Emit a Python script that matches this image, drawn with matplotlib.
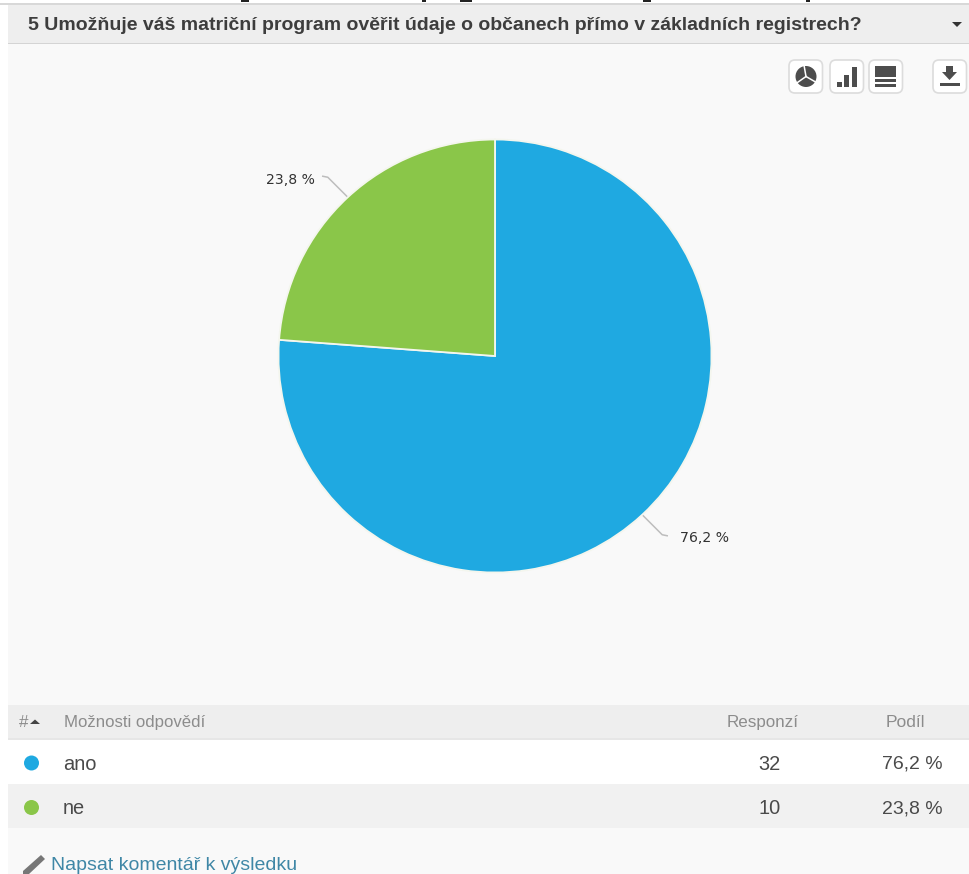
import numpy as np
import matplotlib
matplotlib.use("Agg")
import matplotlib.pyplot as plt
from matplotlib.patches import Rectangle, FancyBboxPatch, Circle, Polygon

plt.rcParams['font.family'] = ['Liberation Sans', 'DejaVu Sans']

# survey answers
question = "5 Umožňuje váš matriční program ověřit údaje o občanech přímo v základních registrech?"
options = ["ano", "ne"]
responses = [32, 10]
shares = [76.2, 23.8]
share_labels = ["76,2 %", "23,8 %"]
colors = ["#1fa9e1", "#8ac649"]

W, H = 970, 874
BG = "#f9f9f9"
BAND = "#eeeeee"
GREY_TXT = "#8c8c8c"
DARK_TXT = "#4a4a4a"
ICON = "#4d4d4d"

fig = plt.figure(figsize=(W / 100, H / 100), dpi=100, facecolor="white")

# page layer in pixel coordinates
bg = fig.add_axes([0, 0, 1, 1])
bg.set_xlim(0, W)
bg.set_ylim(H, 0)
bg.axis("off")


def box(x0, y0, x1, y1, color):
    bg.add_patch(Rectangle((x0, y0), x1 - x0, y1 - y0, fc=color, ec="none"))


def px(size):
    # css pixels to points
    return size * 72 / 100


box(8, 3, W, 874, BG)
box(8, 4, W, 43, BAND)
box(0, 3, W, 4.5, "#d8d8d8")
box(8, 42.5, W, 44, "#d4d4d4")

# bits of the line above the panel, cut off at the top edge
for x0, x1 in [(241, 249), (422, 426), (460, 472), (643, 651), (806, 810)]:
    box(x0, 0, x1, 1.5, "#222222")

bg.text(28, 25, question, fontsize=px(19.5), fontweight="bold", color="#3d3d3d",
        va="center", ha="left")
bg.add_patch(Polygon([(952, 22), (962, 22), (957, 27)], fc="#333333", ec="none"))

# toolbar buttons
for x0 in [789, 830, 869, 933]:
    bg.add_patch(FancyBboxPatch((x0 + 4, 64), 25.5, 25, boxstyle="round,pad=4,rounding_size=6",
                                fc="white", ec="#dcdcdc", lw=1.2))

# pie button
bg.add_patch(Circle((806, 76.5), 10.5, fc=ICON, ec="none"))
for ang in [100, 215, 330]:
    bg.plot([806, 806 + 11 * np.cos(np.radians(ang))],
            [76.5, 76.5 - 11 * np.sin(np.radians(ang))], color="white", lw=1.1)
# bar button
for x0, top in [(837, 82), (844.5, 75), (852.5, 67)]:
    box(x0, top, x0 + 5, 87, ICON)
# table button
box(875, 66, 896, 77, ICON)
box(875, 78.5, 896, 82, ICON)
box(875, 83.5, 896, 87, ICON)
# download button
bg.add_patch(Polygon([(946, 66), (953, 66), (953, 72), (957, 72), (949.5, 80), (942, 72), (946, 72)],
                     fc=ICON, ec="none"))
box(940, 83, 960, 86, ICON)

# pie
cx, cy, r = 495, 356, 216.5
pie_ax = fig.add_axes([(cx - r) / W, 1 - (cy + r) / H, 2 * r / W, 2 * r / H])
pie_ax.pie(responses, colors=colors, startangle=90, counterclock=False, radius=1,
           wedgeprops=dict(edgecolor="#f4f6ee", linewidth=1.3))
pie_ax.set_xlim(-1, 1)
pie_ax.set_ylim(-1, 1)

# leader lines start in the middle of each slice's arc
cum = 0
for val, lab in zip(shares, share_labels):
    ang = np.radians((cum + val / 2) * 3.6)
    cum += val
    sx, sy = np.sin(ang), -np.cos(ang)
    x0, y0 = cx + r * sx, cy + r * sy
    x1, y1 = x0 + 20 * np.sign(sx), y0 + 20 * np.sign(sy)
    x2 = x1 + 5 * np.sign(sx)
    bg.plot([x0, x1, x2], [y0, y1, y1 + np.sign(sy) * 1], color="#bdbdbd", lw=1.1, zorder=3)
    gap = 13 if sx > 0 else 8
    bg.text(x2 + gap * np.sign(sx), y1 + 3, lab, fontsize=px(14), family="DejaVu Sans",
            color="#333333", va="center", ha="left" if sx > 0 else "right", zorder=3)

# table
box(8, 705, W, 739, BAND)
box(8, 738, W, 740, "#e6e6e6")
box(8, 740, W, 783.5, "white")
box(8, 783.5, W, 828, "#f1f1f1")

bg.text(19, 722.5, "#", fontsize=px(17), color=GREY_TXT, va="center")
bg.add_patch(Polygon([(30, 724), (40, 724), (35, 719.5)], fc="#444444", ec="none"))
bg.text(64, 722.5, "Možnosti odpovědí", fontsize=px(16.8), color=GREY_TXT, va="center")
bg.text(763, 722.5, "Responzí", fontsize=px(17), color=GREY_TXT, va="center", ha="center")
bg.text(905.5, 722.5, "Podíl", fontsize=px(17.5), color=GREY_TXT, va="center", ha="center")

row_y = [764, 808.5]
for y, opt, n, lab, col in zip(row_y, options, responses, share_labels, colors):
    bg.add_patch(Circle((31.5, y - 1), 7.5, fc=col, ec="none"))
    bg.text(63, y, opt, fontsize=px(20), color=DARK_TXT, va="center")
    bg.text(769.5, y, str(n), fontsize=px(20), color=DARK_TXT, va="center", ha="center")
    bg.text(912, y, lab, fontsize=px(19.5), color=DARK_TXT, va="center", ha="center")

# comment link with the pencil
bg.add_patch(Polygon([(41, 855), (45, 859), (29, 874), (23, 874), (23, 871)], fc="#777777", ec="none"))
bg.text(51, 873.5, "Napsat komentář k výsledku", fontsize=px(19.5), color="#3f87a6", va="bottom")

fig.savefig("out.png", dpi=100, facecolor="white")
